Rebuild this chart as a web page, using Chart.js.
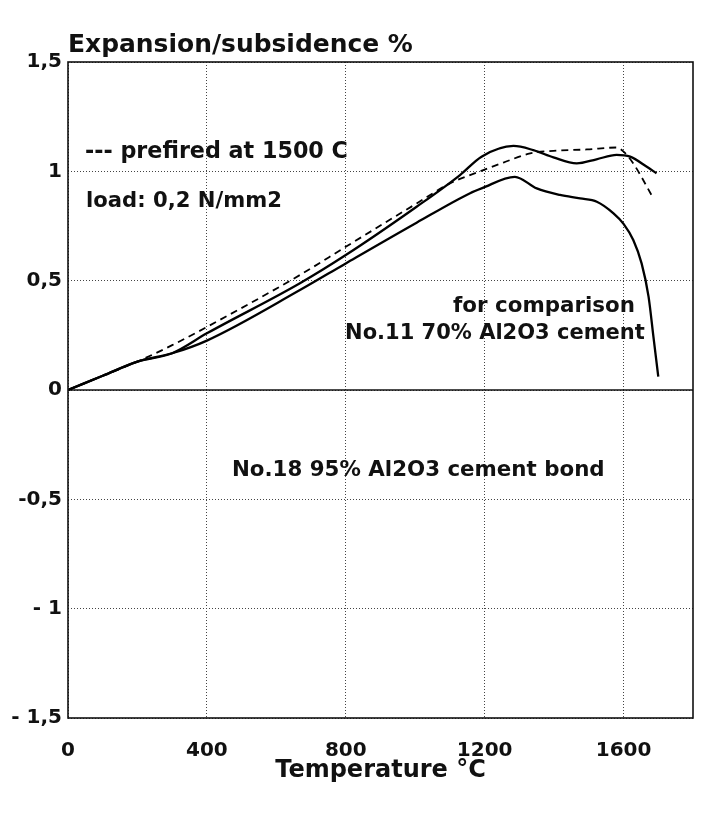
<!DOCTYPE html>
<html><head><meta charset="utf-8">
<script src="https://cdn.jsdelivr.net/npm/chart.js@4.4.1/dist/chart.umd.min.js"></script>
<style>html,body{margin:0;padding:0;background:#fff;}#wrap{width:705px;height:816px;}</style>
</head><body><div id="wrap"><canvas id="c" width="705" height="816"></canvas></div>
<script>
// ---- data ----
const xTickValues = [0, 400, 800, 1200, 1600];
const xTickLabels = ['0', '400', '800', '1200', '1600'];
const yTickValues = [-1.5, -1, -0.5, 0, 0.5, 1, 1.5];
const yTickLabels = ['- 1,5', '- 1', '-0,5', '0', '0,5', '1', '1,5'];

// No.18 95% Al2O3 cement bond (solid, upper)
const tempNo18 = [0, 100, 200, 300, 400, 668, 800, 1004, 1129, 1191, 1283, 1340, 1398, 1465, 1522, 1580, 1619, 1667, 1695];
const expNo18  = [0, 0.065, 0.13, 0.168, 0.259, 0.488, 0.617, 0.838, 0.983, 1.067, 1.116, 1.097, 1.064, 1.036, 1.055, 1.075, 1.067, 1.021, 0.991];

// No.18 prefired at 1500 C (dashed)
const tempPrefired = [0, 100, 200, 300, 402, 668, 800, 1004, 1100, 1187, 1254, 1331, 1398, 1494, 1580, 1600, 1628, 1686];
const expPrefired  = [0, 0.065, 0.13, 0.205, 0.29, 0.526, 0.655, 0.853, 0.945, 1.0, 1.04, 1.082, 1.094, 1.10, 1.109, 1.09, 1.036, 0.876];

// No.11 70% Al2O3 cement (solid, lower, for comparison)
const tempNo11 = [0, 100, 200, 300, 400, 668, 800, 1004, 1158, 1191, 1287, 1350, 1417, 1475, 1523, 1571, 1600, 1628, 1652, 1672, 1686, 1700];
const expNo11  = [0, 0.065, 0.13, 0.168, 0.226, 0.457, 0.579, 0.765, 0.9, 0.922, 0.975, 0.922, 0.892, 0.876, 0.861, 0.808, 0.76, 0.686, 0.579, 0.427, 0.244, 0.061];

const pts = (xs, ys) => xs.map((x, i) => ({x: x, y: ys[i]}));

// ---- text annotations (anchored in data coordinates) ----
const FONT = '"DejaVu Sans", sans-serif';
const notes = [
  {text: '--- prefired at 1500 C', x: 49, y: 1.088, width: 263},
  {text: 'load: 0,2 N/mm2', x: 52, y: 0.86, width: 196},
  {text: 'for comparison', x: 1109, y: 0.38, width: 182},
  {text: 'No.11 70% Al2O3 cement', x: 798, y: 0.26, width: 300},
  {text: 'No.18 95% Al2O3 cement bond', x: 472, y: -0.366, width: 373}
];

function fitFont(ctx, text, width, base) {
  ctx.font = 'bold ' + base + 'px ' + FONT;
  const w = ctx.measureText(text).width;
  return base * width / w;
}

const decorPlugin = {
  id: 'decor',
  beforeDatasetsDraw(chart) {
    const {ctx, chartArea: a, scales} = chart;
    const y0 = scales.y.getPixelForValue(0);
    ctx.save();
    ctx.strokeStyle = '#111';
    ctx.lineWidth = 1.5;
    ctx.beginPath();
    ctx.moveTo(a.left, y0); ctx.lineTo(a.right, y0);
    ctx.stroke();
    ctx.restore();
  },
  afterDatasetsDraw(chart) {
    const {ctx, chartArea: a, scales} = chart;
    ctx.save();
    ctx.strokeStyle = '#111';
    ctx.lineWidth = 1.6;
    ctx.strokeRect(a.left, a.top, a.right - a.left, a.bottom - a.top);
    ctx.fillStyle = '#111';
    ctx.textBaseline = 'middle';
    ctx.textAlign = 'left';
    const ts = fitFont(ctx, 'Expansion/subsidence %', 345, 24);
    ctx.font = 'bold ' + ts + 'px ' + FONT;
    ctx.fillText('Expansion/subsidence %', a.left, 46);
    for (const n of notes) {
      const s = fitFont(ctx, n.text, n.width, 21);
      ctx.font = 'bold ' + s + 'px ' + FONT;
      ctx.fillText(n.text, scales.x.getPixelForValue(n.x), scales.y.getPixelForValue(n.y));
    }
    ctx.restore();
  }
};

new Chart(document.getElementById('c'), {
  type: 'line',
  data: {
    datasets: [
      {label: 'No.18 95% Al2O3 cement bond', data: pts(tempNo18, expNo18), borderColor: '#000', borderWidth: 2.3, pointRadius: 0, cubicInterpolationMode: 'monotone', fill: false},
      {label: 'prefired at 1500 C', data: pts(tempPrefired, expPrefired), borderColor: '#000', borderWidth: 1.8, borderDash: [7, 5], pointRadius: 0, cubicInterpolationMode: 'monotone', fill: false},
      {label: 'No.11 70% Al2O3 cement', data: pts(tempNo11, expNo11), borderColor: '#000', borderWidth: 2.3, pointRadius: 0, cubicInterpolationMode: 'monotone', fill: false}
    ]
  },
  options: {
    responsive: false,
    animation: false,
    devicePixelRatio: 1,
    layout: {padding: {top: 62, right: 12, left: 0, bottom: 0}},
    plugins: {legend: {display: false}, tooltip: {enabled: false}, title: {display: false}},
    scales: {
      x: {
        type: 'linear', min: 0, max: 1800,
        afterBuildTicks: s => { s.ticks = xTickValues.map(v => ({value: v})); },
        afterFit: s => { s.height = 98; },
        ticks: {color: '#111', padding: 21, font: {family: FONT, size: 20, weight: 'bold'},
          callback: v => { const i = xTickValues.indexOf(v); return i >= 0 ? xTickLabels[i] : ''; }},
        grid: {color: '#444', lineWidth: 1, drawTicks: false},
        border: {display: false, dash: [1, 2]},
        title: {display: true, text: 'Temperature °C', color: '#111', font: {family: FONT, size: 24, weight: 'bold'}, padding: {top: 0, bottom: 31}}
      },
      y: {
        type: 'linear', min: -1.5, max: 1.5,
        afterBuildTicks: s => { s.ticks = yTickValues.map(v => ({value: v})); },
        afterFit: s => { s.width = 68; },
        ticks: {color: '#111', padding: 6, font: {family: FONT, size: 20, weight: 'bold'},
          callback: v => { const i = yTickValues.indexOf(v); return i >= 0 ? yTickLabels[i] : ''; }},
        grid: {color: '#444', lineWidth: 1, drawTicks: false},
        border: {display: false, dash: [1, 2]}
      }
    }
  },
  plugins: [decorPlugin]
});
</script></body></html>
